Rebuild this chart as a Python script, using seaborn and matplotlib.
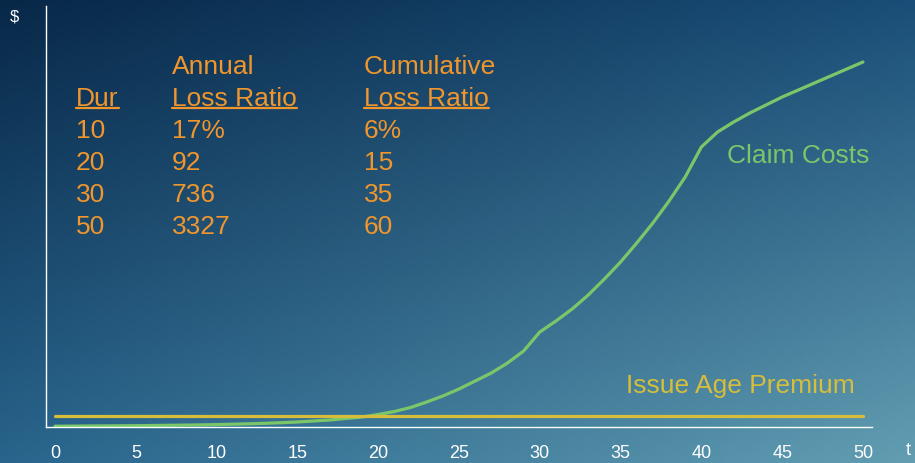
import numpy as np
import pandas as pd
import seaborn as sns
import matplotlib.pyplot as plt
from matplotlib.lines import Line2D

# ======================= data =======================
years = list(range(0, 51))
claim_costs = [0.8, 0.9, 1.0, 1.1, 1.2, 1.3, 1.5, 1.7, 1.9, 2.1,
               2.4, 2.8, 3.2, 3.7, 4.3, 5.0, 6.0, 7.0, 8.5, 10.0,
               12.5, 15.5, 19.5, 25, 31, 38, 46, 54, 64, 76,
               95, 106, 118, 132, 148, 165, 184, 204, 226, 250,
               280, 295, 305, 314, 322, 330, 337, 344, 351, 358, 365]
issue_age_premium = [11] * len(years)

x_ticks = [0, 5, 10, 15, 20, 25, 30, 35, 40, 45, 50]

table_dur = ['10', '20', '30', '50']
table_annual = ['17%', '92', '736', '3327']
table_cumulative = ['6%', '15', '35', '60']

df = pd.DataFrame({'t': years + years,
                   'value': claim_costs + issue_age_premium,
                   'series': ['Claim Costs'] * len(years) + ['Issue Age Premium'] * len(years)})

green = '#7cc66a'
yellow = '#d6bd3c'
orange = '#f0962c'

sns.set_style('white')
plt.rcParams['font.family'] = ['Liberation Sans', 'DejaVu Sans']

W, H = 915, 464
fig = plt.figure(figsize=(W / 100, H / 100), dpi=100)

# ---------- gradient background ----------
bg = fig.add_axes([0, 0, 1, 1], zorder=0)
tl = np.array([8, 40, 72]) / 255
tr = np.array([26, 78, 120]) / 255
bl = np.array([40, 100, 140]) / 255
br = np.array([98, 158, 178]) / 255
u = np.linspace(0, 1, 200)[None, :, None]
v = np.linspace(0, 1, 100)[:, None, None]
img = (1 - v) * ((1 - u) * tl + u * tr) + v * ((1 - u) * bl + u * br)
bg.imshow(img, aspect='auto', extent=[0, 1, 0, 1], origin='upper')
bg.axis('off')

# ---------- main axes ----------
def px(x, y):
    return x / W, 1 - y / H

left, top = px(46, 7)
right, bottom = px(872, 428)
ax = fig.add_axes([left, bottom, right - left, top - bottom], zorder=1)
ax.patch.set_alpha(0)

sns.lineplot(data=df, x='t', y='value', hue='series',
             palette={'Claim Costs': green, 'Issue Age Premium': yellow},
             linewidth=2.3, legend=False, ax=ax)

ax.set_xlim(-0.56, 50.56)
ax.set_ylim(0, 421)
ax.set_xticks(x_ticks)
ax.set_yticks([])
ax.set_xlabel('')
ax.set_ylabel('')
ax.tick_params(axis='x', length=0, pad=12, labelsize=13, labelcolor='white')
for side in ['top', 'right']:
    ax.spines[side].set_visible(False)
for side in ['left', 'bottom']:
    ax.spines[side].set_color('white')
    ax.spines[side].set_linewidth(1.0)

# axis captions
fig.text(*px(14, 17), '$', color='white', fontsize=12, ha='center', va='center')
fig.text(*px(908, 451), 't', color='white', fontsize=13, ha='center', va='center')

# series labels
fig.text(*px(727, 163), 'Claim Costs', color=green, fontsize=19, va='baseline')
fig.text(*px(626, 393), 'Issue Age Premium', color=yellow, fontsize=19, va='baseline')

# ---------- table ----------
col_x = [76, 172, 364]
fs = 19
fig.text(*px(col_x[1], 74), 'Annual', color=orange, fontsize=fs, va='baseline')
fig.text(*px(col_x[2], 74), 'Cumulative', color=orange, fontsize=fs, va='baseline')
heads = []
for cx, label in zip(col_x, ['Dur', 'Loss Ratio', 'Loss Ratio']):
    heads.append(fig.text(*px(cx, 106), label, color=orange, fontsize=fs, va='baseline'))
for i in range(len(table_dur)):
    yb = 138 + 32 * i
    fig.text(*px(col_x[0], yb), table_dur[i], color=orange, fontsize=fs, va='baseline')
    fig.text(*px(col_x[1], yb), table_annual[i], color=orange, fontsize=fs, va='baseline')
    fig.text(*px(col_x[2], yb), table_cumulative[i], color=orange, fontsize=fs, va='baseline')

# underline the headers
fig.canvas.draw()
renderer = fig.canvas.get_renderer()
for t in heads:
    bb = t.get_window_extent(renderer)
    yl = 1 - 108.5 / H
    fig.add_artist(Line2D([bb.x0 / W, bb.x1 / W], [yl, yl], color=orange,
                          linewidth=1.6, transform=fig.transFigure))

fig.savefig('out.png', dpi=100)
